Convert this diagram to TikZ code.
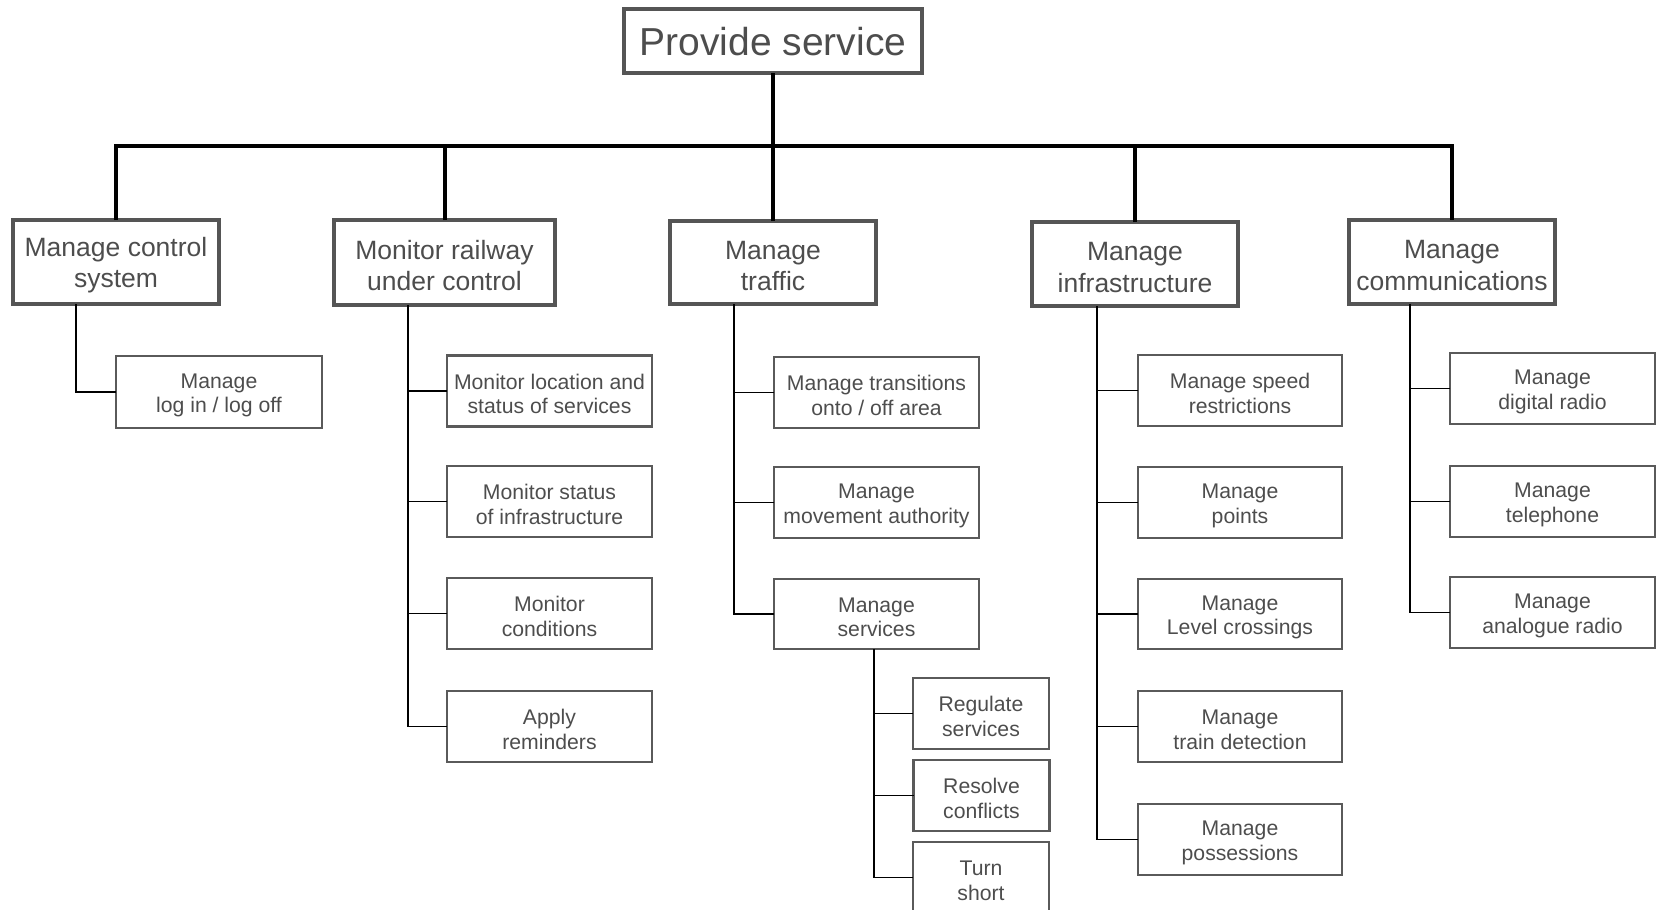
\documentclass[tikz,border=0pt]{standalone}
\usepackage{fontspec}
\setmainfont{Liberation Sans}
\usetikzlibrary{calc}
\definecolor{txt}{HTML}{4D4D4D}
\definecolor{bord}{HTML}{555555}
\definecolor{bordb}{HTML}{5A5A5A}
\newcommand\StrutA{\rule{0pt}{25.4pt}}
\newcommand\StrutB{\rule{0pt}{21.6pt}}
\begin{document}
\begin{tikzpicture}[x=1pt,y=-1pt,
 topbox/.style={draw=bord, line width=3.4pt, text=txt, font=\fontsize{39}{44}\selectfont, inner sep=0pt, outer sep=0pt, minimum width=298pt, minimum height=64pt, execute at begin node={\rule{0pt}{30pt}}},
 lone/.style={draw=bord, line width=4pt, text=txt, font=\fontsize{26.5}{31.5}\selectfont, align=center, inner sep=0pt, outer sep=0pt, minimum width=206pt, minimum height=84pt},
 ltwo/.style={draw=bordb, line width=2.2pt, text=txt, font=\fontsize{21.2}{24.5}\selectfont, align=center, inner sep=0pt, outer sep=0pt, minimum width=205pt, minimum height=71pt},
 lthree/.style={ltwo, minimum width=136pt},
 bus/.style={line width=4pt, draw=black},
 trunk/.style={line width=1.6pt, draw=black}]
\useasboundingbox (0,0) rectangle (1657,910);
\clip (0,0) rectangle (1657,910);

% top
\node[topbox] (ps) at (773,41) {Provide service};

% level 1
\node[lone] (mcs) at (116,262) {\StrutA Manage control\\system};
\node[lone, minimum width=221pt, minimum height=85pt] (mrc) at (444.5,262.5) {\StrutA Monitor railway\\under control};
\node[lone, minimum height=83pt] (mt) at (773,262.5) {\StrutA Manage\\traffic};
\node[lone] (mi) at (1135,264) {\StrutA Manage\\infrastructure};
\node[lone] (mc) at (1452,262) {\StrutA Manage\\communications};

\coordinate (bar) at (773,146);
\draw[bus] (mcs.north) -- (mcs.north |- bar) -- (mc.north |- bar) -- (mc.north);
\draw[bus] (ps.south) -- (ps.south |- bar);
\draw[bus] (mrc.north) -- (mrc.north |- bar);
\draw[bus] (mt.north) -- (mt.north |- bar);
\draw[bus] (mi.north) -- (mi.north |- bar);

% Manage control system
\node[ltwo, minimum width=206pt, minimum height=72pt] (login) at (219,392) {\StrutB Manage\\log in / log off};
\coordinate (t1) at (76,304);
\draw[trunk] (t1) |- (login.west);

% Monitor railway
\node[ltwo] (r1) at (549.5,391) {\StrutB Monitor location and\\status of services};
\node[ltwo] (r2) at (549.5,501.5) {\StrutB Monitor status\\of infrastructure};
\node[ltwo] (r3) at (549.5,613.5) {\StrutB Monitor\\conditions};
\node[ltwo] (r4) at (549.5,726.5) {\StrutB Apply\\reminders};
\coordinate (t2) at (408,305);
\draw[trunk] (t2) |- (r4.west);
\foreach \n in {r1,r2,r3} \draw[trunk] (\n.west) -- (\n.west -| t2);

% Manage traffic
\node[ltwo] (s1) at (876.5,392.5) {\StrutB Manage transitions\\onto / off area};
\node[ltwo] (s2) at (876.5,502.5) {\StrutB Manage\\movement authority};
\node[ltwo, minimum height=70pt] (s3) at (876.5,614) {\StrutB Manage\\services};
\coordinate (t3) at (734,304);
\draw[trunk] (t3) |- (s3.west);
\foreach \n in {s1,s2} \draw[trunk] (\n.west) -- (\n.west -| t3);

\node[lthree] (u1) at (981,713.5) {\StrutB Regulate\\services};
\node[lthree] (u2) at (981.5,795.5) {\StrutB Resolve\\conflicts};
\node[lthree] (u3) at (981,877.5) {\StrutB Turn\\short};
\coordinate (t4) at (874,649);
\draw[trunk] (t4) |- (u3.west);
\foreach \n in {u1,u2} \draw[trunk] (\n.west) -- (\n.west -| t4);

% Manage infrastructure
\node[ltwo, minimum width=204pt] (i1) at (1240,390.5) {\StrutB Manage speed\\restrictions};
\node[ltwo, minimum width=204pt] (i2) at (1240,502.5) {\StrutB Manage\\points};
\node[ltwo, minimum width=204pt, minimum height=70pt] (i3) at (1240,614) {\StrutB Manage\\Level crossings};
\node[ltwo, minimum width=204pt] (i4) at (1240,726.5) {\StrutB Manage\\train detection};
\node[ltwo, minimum width=204pt] (i5) at (1240,839.5) {\StrutB Manage\\possessions};
\coordinate (t5) at (1097,306);
\draw[trunk] (t5) |- (i5.west);
\foreach \n in {i1,i2,i3,i4} \draw[trunk] (\n.west) -- (\n.west -| t5);

% Manage communications
\node[ltwo, minimum height=71pt] (c1) at (1552.5,388.5) {\StrutB Manage\\digital radio};
\node[ltwo, minimum height=71pt] (c2) at (1552.5,501.5) {\StrutB Manage\\telephone};
\node[ltwo, minimum height=71pt] (c3) at (1552.5,612.5) {\StrutB Manage\\analogue radio};
\coordinate (t6) at (1410,304);
\draw[trunk] (t6) |- (c3.west);
\foreach \n in {c1,c2} \draw[trunk] (\n.west) -- (\n.west -| t6);
\end{tikzpicture}
\end{document}
